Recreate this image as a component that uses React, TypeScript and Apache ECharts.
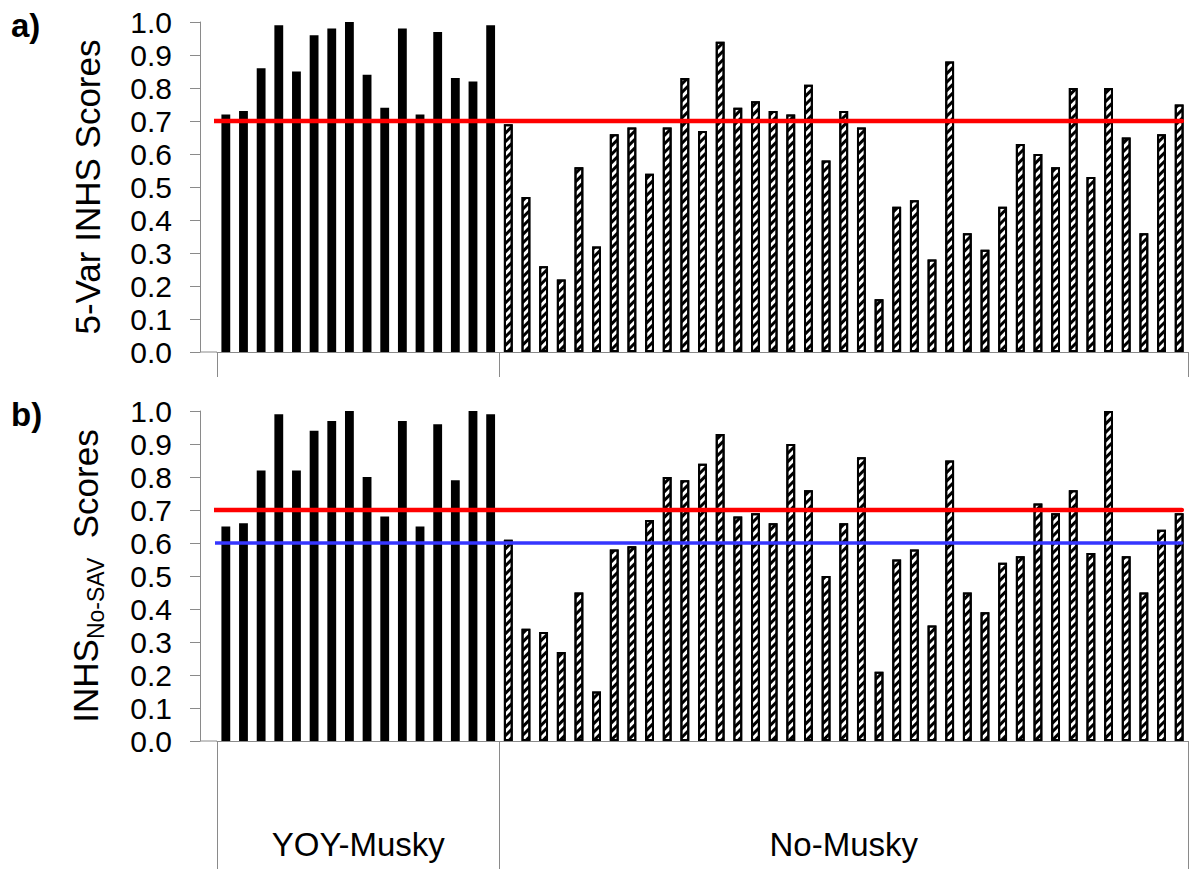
import { useEffect, useRef } from 'react';
import * as echarts from 'echarts';

// Site groups along the category axis
const groupNames = ['YOY-Musky', 'No-Musky'];

// Panel a) 5-variable INHS scores
const yoyFiveVar = [0.72, 0.73, 0.86, 0.99, 0.85, 0.96, 0.98, 1.0, 0.84, 0.74, 0.98, 0.72, 0.97, 0.83, 0.82, 0.99];
const noFiveVar = [
  0.69, 0.47, 0.26, 0.22, 0.56, 0.32, 0.66, 0.68, 0.54, 0.68,
  0.83, 0.67, 0.94, 0.74, 0.76, 0.73, 0.72, 0.81, 0.58, 0.73,
  0.68, 0.16, 0.44, 0.46, 0.28, 0.88, 0.36, 0.31, 0.44, 0.63,
  0.60, 0.56, 0.80, 0.53, 0.80, 0.65, 0.36, 0.66, 0.75,
];

// Panel b) INHS scores without the SAV variable
const yoyNoSav = [0.65, 0.66, 0.82, 0.99, 0.82, 0.94, 0.97, 1.0, 0.80, 0.68, 0.97, 0.65, 0.96, 0.79, 1.0, 0.99];
const noNoSav = [
  0.61, 0.34, 0.33, 0.27, 0.45, 0.15, 0.58, 0.59, 0.67, 0.80,
  0.79, 0.84, 0.93, 0.68, 0.69, 0.66, 0.90, 0.76, 0.50, 0.66,
  0.86, 0.21, 0.55, 0.58, 0.35, 0.85, 0.45, 0.39, 0.54, 0.56,
  0.72, 0.69, 0.76, 0.57, 1.0, 0.56, 0.45, 0.64, 0.69,
];

// Reference thresholds
const fiveVarCuts = [0.7];
const noSavCuts = [0.7, 0.6];
const cutColors = ['#ff0000', '#3636ff'];
const cutWidths = [4.5, 3.5];

// Y axis scale
const yMin = 0;
const yMax = 1;
const yStep = 0.1;

const FONT = "'Liberation Sans', Arial, Helvetica, sans-serif";
const GREY = '#8a8a8a';
const Y_OFFSET = 17;

const siteIds = [
  ...yoyFiveVar.map((_, i) => `Y${i + 1}`),
  ...noFiveVar.map((_, i) => `N${i + 1}`),
];
const total = siteIds.length;
const groupSizes = [yoyFiveVar.length, noFiveVar.length];
const groupEdges = [0, groupSizes[0], groupSizes[0] + groupSizes[1]];
const groupMids = [groupSizes[0] / 2, groupSizes[0] + groupSizes[1] / 2];

const solidStyle = { color: '#000000', borderWidth: 0 };
const hatchStyle = {
  color: '#ffffff',
  borderColor: '#000000',
  borderWidth: 2,
  decal: {
    symbol: 'rect',
    symbolSize: 1,
    dashArrayX: [1, 0],
    dashArrayY: [2.5, 2.5],
    rotation: -Math.PI / 4,
    color: '#000000',
  },
};

function barData(yoy: number[], no: number[]) {
  return [
    ...yoy.map((v) => ({ value: v, itemStyle: solidStyle })),
    ...no.map((v) => ({ value: v, itemStyle: hatchStyle })),
  ];
}

const grids = [
  { left: 217, right: 2, top: 22, height: 330 },
  { left: 217, right: 2, top: 411, height: 330 },
];

function yAxisFor(gridIndex: number, name: string, rich: boolean, nameGap: number) {
  return {
    gridIndex,
    type: 'value',
    min: yMin,
    max: yMax,
    interval: yStep,
    offset: Y_OFFSET,
    axisLine: { show: true, onZero: false, lineStyle: { color: GREY, width: 1 } },
    axisTick: { show: true, length: 10, lineStyle: { color: GREY, width: 1 } },
    axisLabel: {
      margin: 28,
      fontSize: 30,
      fontFamily: FONT,
      color: '#000',
      formatter: (v: number) => v.toFixed(1),
    },
    splitLine: { show: false },
    name,
    nameLocation: 'middle',
    nameRotate: 90,
    nameGap,
    nameTextStyle: rich
      ? {
          fontSize: 35,
          fontFamily: FONT,
          color: '#000',
          rich: {
            m: { fontSize: 35, fontFamily: FONT, color: '#000', padding: [0, 0, 4, 0] },
            s: { fontSize: 23, fontFamily: FONT, color: '#000', verticalAlign: 'bottom' },
          },
        }
      : { fontSize: 35, fontFamily: FONT, color: '#000' },
  };
}

function groupAxis(gridIndex: number, tickLen: number, showLabels: boolean) {
  return {
    gridIndex,
    type: 'value',
    position: 'bottom',
    min: 0,
    max: total,
    axisLine: { show: true, onZero: false, lineStyle: { color: GREY, width: 1 } },
    axisTick: {
      show: true,
      customValues: groupEdges,
      length: tickLen,
      lineStyle: { color: GREY, width: 1 },
    },
    axisLabel: {
      show: showLabels,
      customValues: groupMids,
      margin: 87,
      fontSize: 33,
      fontFamily: FONT,
      color: '#000',
      formatter: (v: number) => {
        const idx = groupMids.findIndex((m) => Math.abs(m - v) < 1e-6);
        return idx >= 0 ? groupNames[idx] : '';
      },
    },
    splitLine: { show: false },
  };
}

function siteAxis(gridIndex: number) {
  return {
    gridIndex,
    type: 'category',
    position: 'top',
    data: siteIds,
    show: false,
    axisLine: { show: false, onZero: false },
  };
}

// Threshold line spans (in site units on the group axis)
const cutStart = -0.5;
const cutEnd = total - 0.35;

function cutSeries(xAxisIndex: number, yAxisIndex: number, cuts: number[]) {
  return cuts.map((c, i) => ({
    type: 'line',
    xAxisIndex,
    yAxisIndex,
    data: [
      [cutStart, c],
      [cutEnd, c],
    ],
    symbol: 'none',
    clip: false,
    silent: true,
    z: 5,
    lineStyle: { color: cutColors[i], width: cutWidths[i], cap: 'round' },
  }));
}

export default function App() {
  const ref = useRef<HTMLDivElement>(null);

  useEffect(() => {
    if (!ref.current) return;
    const chart = echarts.init(ref.current, undefined, { renderer: 'svg' });
    chart.setOption({
      animation: false,
      backgroundColor: '#ffffff',
      grid: grids,
      xAxis: [groupAxis(0, 25, false), siteAxis(0), groupAxis(1, 128, true), siteAxis(1)],
      yAxis: [
        yAxisFor(0, '5-Var INHS Scores', false, 95),
        yAxisFor(1, '{m|INHS}{s|No-SAV}{m|  Scores}', true, 93),
      ],
      series: [
        {
          type: 'bar',
          xAxisIndex: 1,
          yAxisIndex: 0,
          barWidth: '50%',
          data: barData(yoyFiveVar, noFiveVar),
        },
        ...cutSeries(0, 0, fiveVarCuts),
        {
          type: 'bar',
          xAxisIndex: 3,
          yAxisIndex: 1,
          barWidth: '50%',
          data: barData(yoyNoSav, noNoSav),
        },
        ...cutSeries(2, 1, noSavCuts),
      ],
    });

    // Join each x axis line to the offset y axis, and add the panel letters
    const extras: any[] = [];
    [0, 1].forEach((g) => {
      const y0 = chart.convertToPixel({ yAxisIndex: g }, yMin) as number;
      const x0 = chart.convertToPixel({ xAxisIndex: g * 2 }, 0) as number;
      extras.push({
        type: 'line',
        shape: { x1: x0 - Y_OFFSET, y1: y0, x2: x0, y2: y0 },
        style: { stroke: GREY, lineWidth: 1 },
        silent: true,
      });
      const yTop = chart.convertToPixel({ yAxisIndex: g }, yMax) as number;
      extras.push({
        type: 'text',
        x: 11,
        y: yTop + 3,
        style: {
          text: g === 0 ? 'a)' : 'b)',
          font: `bold 33px ${FONT}`,
          fill: '#000',
          verticalAlign: 'middle',
          align: 'left',
        },
        silent: true,
      });
    });
    chart.setOption({ graphic: extras });

    return () => chart.dispose();
  }, []);

  return (
    <div
      ref={ref}
      style={{ position: 'absolute', left: 0, top: 0, width: 1190, height: 869, background: '#fff' }}
    />
  );
}
